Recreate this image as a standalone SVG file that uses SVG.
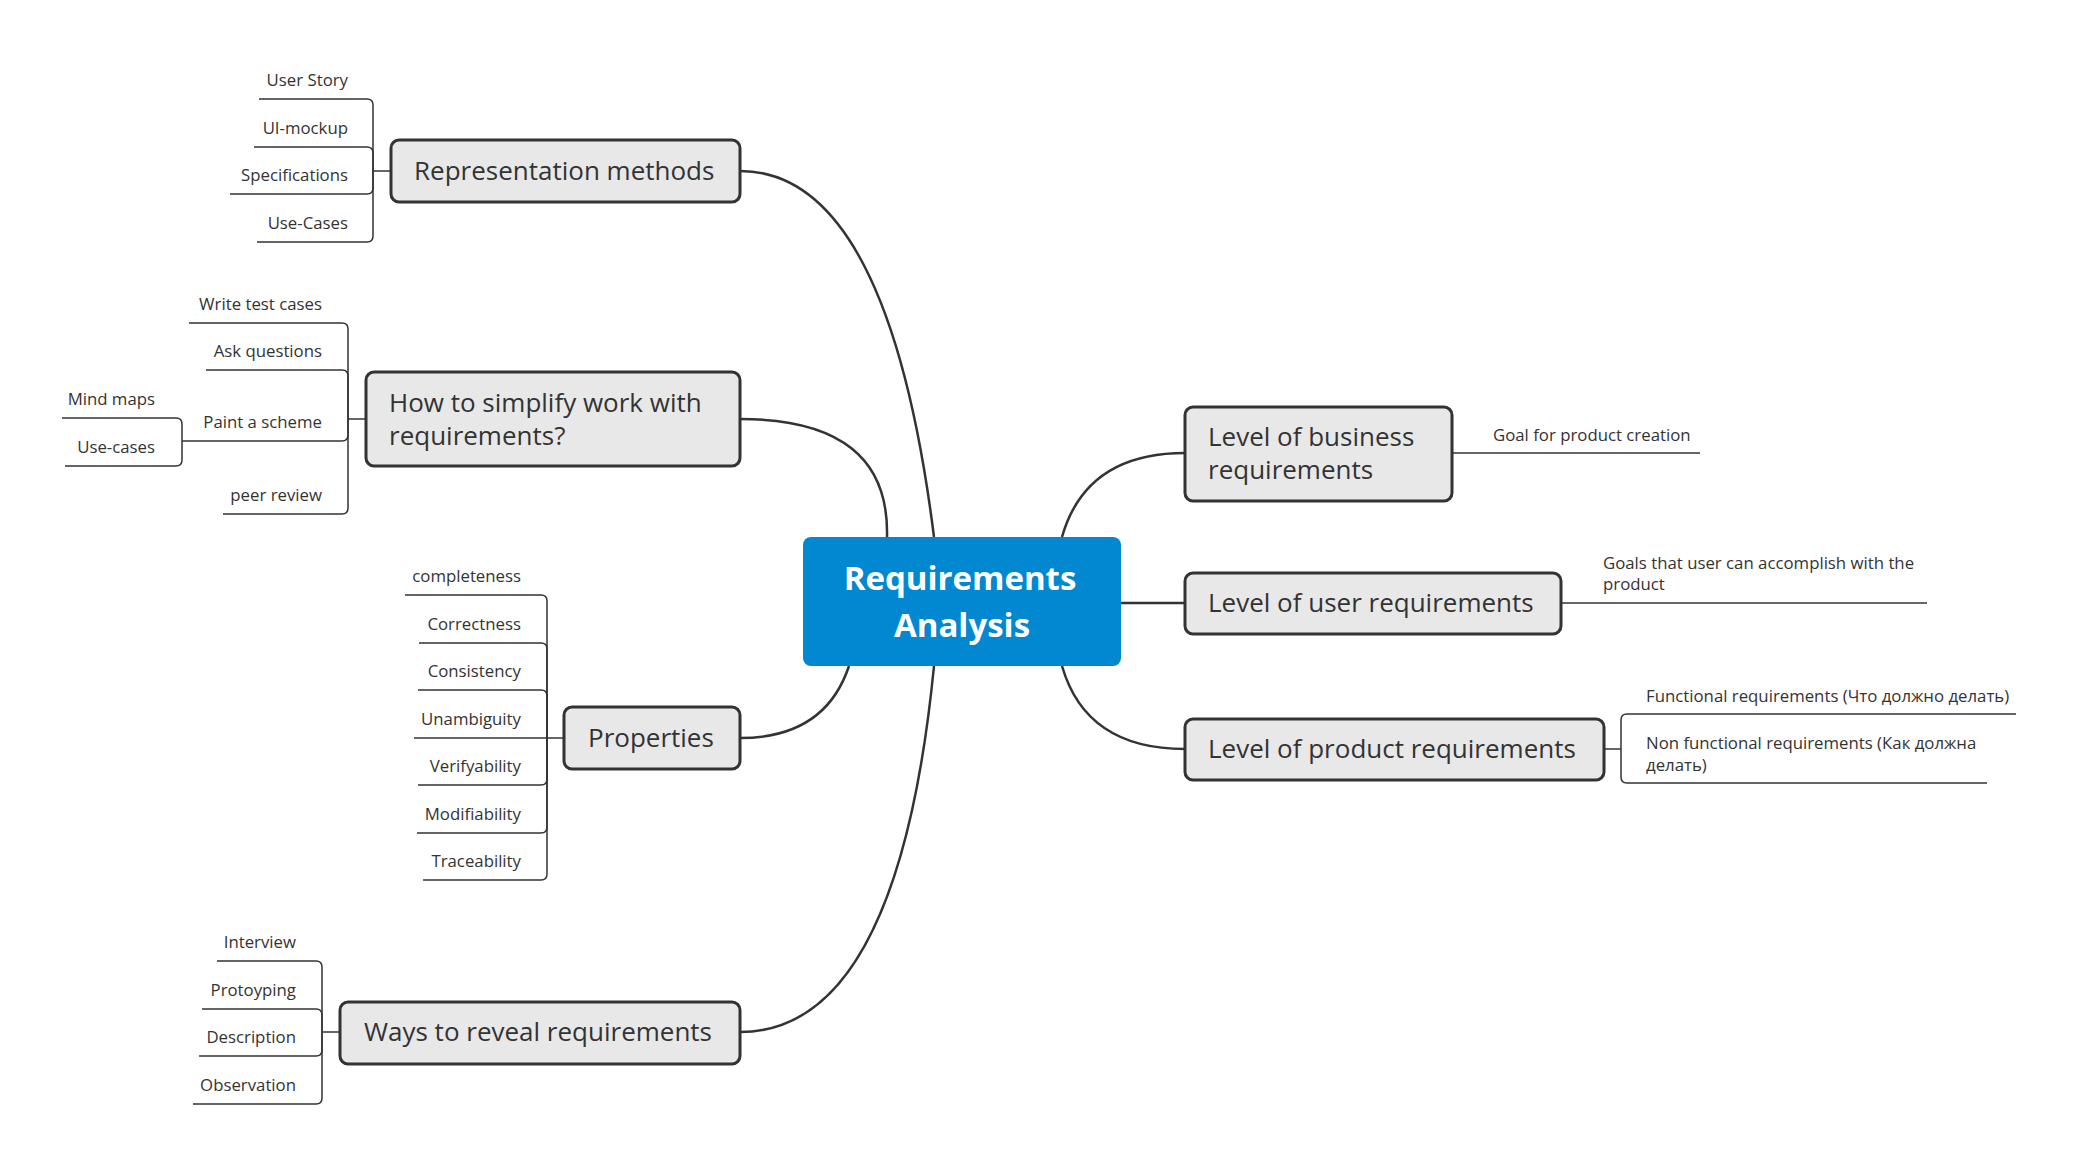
<svg xmlns="http://www.w3.org/2000/svg" width="2078" height="1167" viewBox="0 0 2078 1167">
<style>
.bg{fill:#ffffff}
.main{fill:none;stroke:#333333;stroke-width:2.5}
.sub{fill:none;stroke:#333333;stroke-width:1.5}
.topic rect{fill:#e8e8e8;stroke:#333333;stroke-width:3}
.topic text{font-family:"Open Sans","Liberation Sans",sans-serif;font-size:26px;fill:#333333}
.center rect{fill:#0288d1}
.center text{font-family:"Open Sans","Liberation Sans",sans-serif;font-size:33px;font-weight:700;fill:#ffffff;text-anchor:middle}
.lbl{font-family:"Open Sans","Liberation Sans","Noto Sans",sans-serif;font-size:16.8px;fill:#333333}
.r{text-anchor:end}
</style>
<rect class="bg" x="0" y="0" width="2078" height="1167"/>
<g id="connectors">
  <path class="main" d="M740,171 Q888,171 934,537"/>
  <path class="main" d="M740,419 Q890,419 887,537"/>
  <path class="main" d="M740,738 Q825,738 849,666"/>
  <path class="main" d="M740,1032 Q898,1032 934,666"/>
  <path class="main" d="M1185,453 Q1086,453 1062,537"/>
  <path class="main" d="M1121,603 H1185"/>
  <path class="main" d="M1185,749 Q1086,749 1062,666"/>
  <!-- Representation methods -->
  <path class="sub" d="M391,171 H373"/>
  <path class="sub" d="M373,171 V105 Q373,99 367,99 H259"/>
  <path class="sub" d="M373,171 V153 Q373,147 367,147 H254"/>
  <path class="sub" d="M373,171 V188 Q373,194 367,194 H230"/>
  <path class="sub" d="M373,171 V236 Q373,242 367,242 H257"/>
  <!-- How to simplify -->
  <path class="sub" d="M366,419 H348"/>
  <path class="sub" d="M348,419 V329 Q348,323 342,323 H189"/>
  <path class="sub" d="M348,419 V376 Q348,370 342,370 H206"/>
  <path class="sub" d="M348,419 V435 Q348,441 342,441 H182"/>
  <path class="sub" d="M348,419 V508 Q348,514 342,514 H223"/>
  <path class="sub" d="M182,441 V424 Q182,418 176,418 H62"/>
  <path class="sub" d="M182,441 V460 Q182,466 176,466 H65"/>
  <!-- Properties -->
  <path class="sub" d="M564,738 H414"/>
  <path class="sub" d="M547,738 V601 Q547,595 541,595 H405"/>
  <path class="sub" d="M547,738 V649 Q547,643 541,643 H419"/>
  <path class="sub" d="M547,738 V696 Q547,690 541,690 H418"/>
  <path class="sub" d="M547,738 V779 Q547,785 541,785 H418"/>
  <path class="sub" d="M547,738 V827 Q547,833 541,833 H417"/>
  <path class="sub" d="M547,738 V874 Q547,880 541,880 H423"/>
  <!-- Ways -->
  <path class="sub" d="M340,1032 H322"/>
  <path class="sub" d="M322,1032 V967 Q322,961 316,961 H217"/>
  <path class="sub" d="M322,1032 V1015 Q322,1009 316,1009 H202"/>
  <path class="sub" d="M322,1032 V1050 Q322,1056 316,1056 H199"/>
  <path class="sub" d="M322,1032 V1098 Q322,1104 316,1104 H193"/>
  <!-- Right side -->
  <path class="sub" d="M1452,453 H1700"/>
  <path class="sub" d="M1561,603 H1927"/>
  <path class="sub" d="M1604,749 H1621"/>
  <path class="sub" d="M1621,749 V720 Q1621,714 1627,714 H2016"/>
  <path class="sub" d="M1621,749 V777 Q1621,783 1627,783 H1987"/>
</g>
<g id="center" class="center">
  <rect x="803" y="537" width="318" height="129" rx="8"/>
  <text x="960" y="590">Requirements</text>
  <text x="962" y="637">Analysis</text>
</g>
<g id="representation" class="topic">
  <rect x="391" y="140" width="349" height="62" rx="8"/>
  <text x="414" y="180">Representation methods</text>
</g>
<g id="simplify" class="topic">
  <rect x="366" y="372" width="374" height="94" rx="8"/>
  <text x="389" y="412">How to simplify work with</text>
  <text x="389" y="445">requirements?</text>
</g>
<g id="properties" class="topic">
  <rect x="564" y="707" width="176" height="62" rx="8"/>
  <text x="588" y="747">Properties</text>
</g>
<g id="ways" class="topic">
  <rect x="340" y="1002" width="400" height="62" rx="8"/>
  <text x="364" y="1041">Ways to reveal requirements</text>
</g>
<g id="business" class="topic">
  <rect x="1185" y="407" width="267" height="94" rx="8"/>
  <text x="1208" y="446">Level of business</text>
  <text x="1208" y="479">requirements</text>
</g>
<g id="user" class="topic">
  <rect x="1185" y="573" width="376" height="61" rx="8"/>
  <text x="1208" y="612">Level of user requirements</text>
</g>
<g id="product" class="topic">
  <rect x="1185" y="719" width="419" height="61" rx="8"/>
  <text x="1208" y="758">Level of product requirements</text>
</g>
<g id="rep-items">
  <text class="lbl r" x="348" y="86">User Story</text>
  <text class="lbl r" x="348" y="134">UI-mockup</text>
  <text class="lbl r" x="348" y="181">Specifications</text>
  <text class="lbl r" x="348" y="229">Use-Cases</text>
</g>
<g id="simplify-items">
  <text class="lbl r" x="322" y="310">Write test cases</text>
  <text class="lbl r" x="322" y="357">Ask questions</text>
  <text class="lbl r" x="322" y="428">Paint a scheme</text>
  <text class="lbl r" x="322" y="501">peer review</text>
  <text class="lbl r" x="155" y="405">Mind maps</text>
  <text class="lbl r" x="155" y="453">Use-cases</text>
</g>
<g id="properties-items">
  <text class="lbl r" x="521" y="582">completeness</text>
  <text class="lbl r" x="521" y="630">Correctness</text>
  <text class="lbl r" x="521" y="677">Consistency</text>
  <text class="lbl r" x="521" y="725">Unambiguity</text>
  <text class="lbl r" x="521" y="772">Verifyability</text>
  <text class="lbl r" x="521" y="820">Modifiability</text>
  <text class="lbl r" x="521" y="867">Traceability</text>
</g>
<g id="ways-items">
  <text class="lbl r" x="296" y="948">Interview</text>
  <text class="lbl r" x="296" y="996">Protoyping</text>
  <text class="lbl r" x="296" y="1043">Description</text>
  <text class="lbl r" x="296" y="1091">Observation</text>
</g>
<g id="right-items">
  <text class="lbl" x="1493" y="441">Goal for product creation</text>
  <text class="lbl" x="1603" y="569">Goals that user can accomplish with the</text>
  <text class="lbl" x="1603" y="590">product</text>
  <text class="lbl" x="1646" y="702">Functional requirements (Что должно делать)</text>
  <text class="lbl" x="1646" y="749">Non functional requirements (Как должна</text>
  <text class="lbl" x="1646" y="771">делать)</text>
</g>
</svg>
